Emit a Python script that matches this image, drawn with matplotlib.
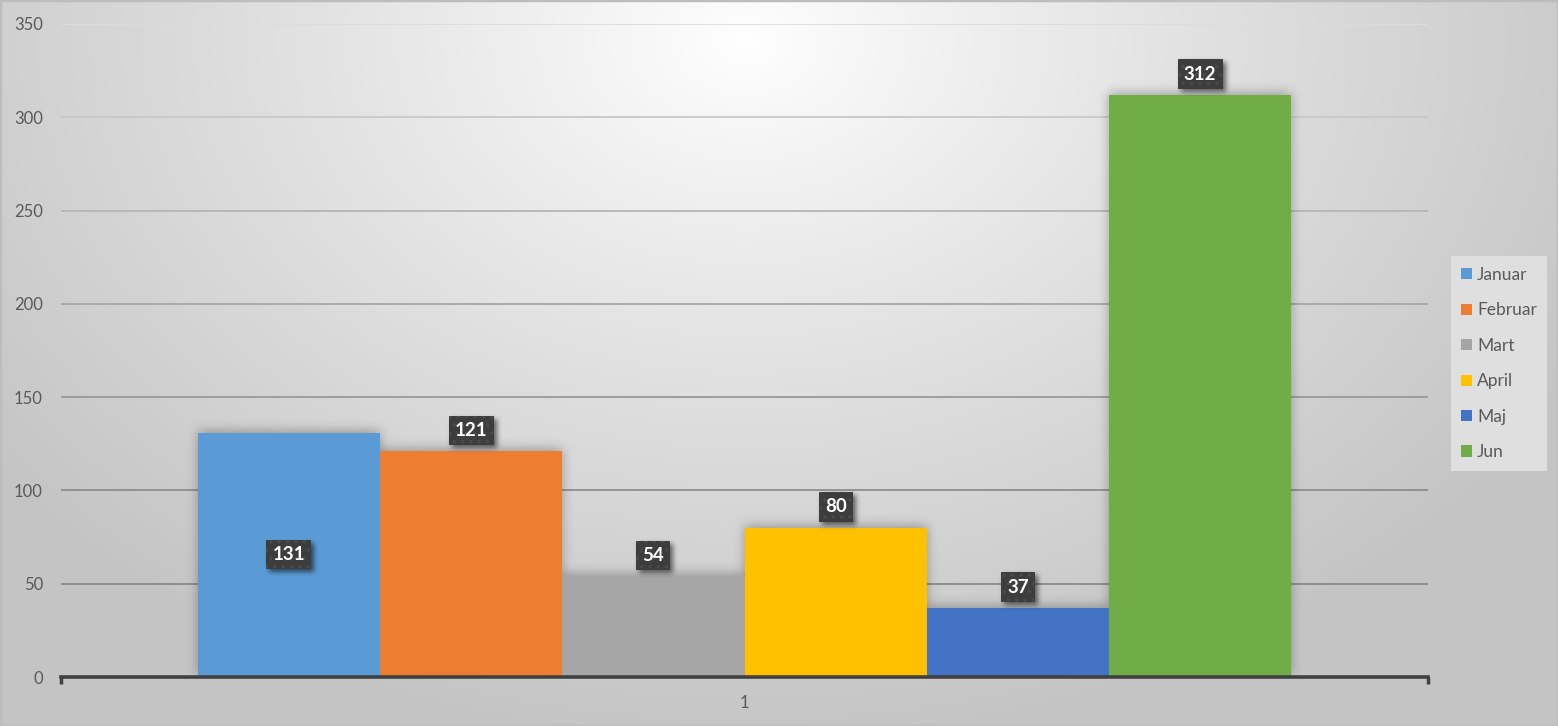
import numpy as np
import matplotlib
matplotlib.use("Agg")
import matplotlib.pyplot as plt
from matplotlib.patches import Rectangle

months = ["Januar", "Februar", "Mart", "April", "Maj", "Jun"]
values = [131, 121, 54, 80, 37, 312]
colors = ["#5b9bd5", "#ed7d31", "#a5a5a5", "#ffc000", "#4472c4", "#70ad47"]
category = ["1"]
y_ticks = [0, 50, 100, 150, 200, 250, 300, 350]

W, H = 1558, 726
plt.rcParams["font.family"] = ["Lato", "DejaVu Sans"]
plt.rcParams["hatch.linewidth"] = 1.2


def blur(a, r, n=3):
    k = np.ones(2 * r + 1) / (2 * r + 1)
    for _ in range(n):
        for axis in (0, 1):
            a = np.apply_along_axis(lambda v: np.convolve(v, k, mode="same"), axis, a)
    return a


fig = plt.figure(figsize=(W / 100, H / 100), dpi=100)

# radial background, white near top centre
bg = fig.add_axes([0, 0, 1, 1], zorder=-5)
yy, xx = np.mgrid[0:H, 0:W]
d = np.sqrt((xx - 745.0) ** 2 + ((yy - 40.0) * 1.35) ** 2) / 950.0
shade = 1.0 - 0.23 * np.clip(d, 0, 1) ** 0.9
bg.imshow(np.dstack([shade] * 3), extent=[0, 1, 0, 1], aspect="auto", origin="upper")
bg.add_patch(Rectangle((0, 0), 1, 1, transform=bg.transAxes, facecolor="none",
                       edgecolor="#bdbdbd", linewidth=2.5))
bg.set_xlim(0, 1)
bg.set_ylim(0, 1)
bg.axis("off")

ax = fig.add_axes([61 / W, 1 - 677 / H, (1428 - 61) / W, (677 - 24) / H])
ax.set_facecolor("none")
ax.set_xlim(-0.5, 0.5)
ax.set_ylim(0, 350)

n = len(values)
width = 0.8 / n
xs = -0.4 + width * (np.arange(n) + 0.5)

bars = ax.bar(xs, values, width=width, color=colors, zorder=2)

labels = []
for i, (x, v) in enumerate(zip(xs, values)):
    if i == 0:
        y, off = v / 2, 0
    else:
        y, off = v, 15
    box = dict(boxstyle="square,pad=0.33", facecolor="#3d3d3d", edgecolor="#4a4a4a",
               linewidth=0, hatch="..")
    t = ax.annotate(str(v), (x, y), xytext=(0, off), textcoords="offset points",
                    ha="center", va="center", fontsize=13.5, fontweight="bold",
                    color="white", bbox=box, zorder=5)
    labels.append(t)

# gridlines fade from light at the top to darker at the bottom
grid_cols = {50: "#8a8a8a", 100: "#8e8e8e", 150: "#999999", 200: "#a6a6a6",
             250: "#b5b5b5", 300: "#c8c8c8", 350: "#dcdcdc"}
for t in y_ticks[1:]:
    ax.axhline(t, color=grid_cols[t], linewidth=1.3, zorder=0.5)

ax.set_yticks(y_ticks)
ax.set_yticklabels([str(t) for t in y_ticks])
ax.tick_params(axis="y", length=0, pad=13, labelsize=12, labelcolor="#595959")

ax.set_xticks([-0.5, 0.5])
ax.set_xticklabels(["", ""])
ax.tick_params(axis="x", which="major", length=5, width=2.5, color="#404040", direction="out")
ax.set_xticks([0], minor=True)
ax.set_xticklabels(category, minor=True)
ax.tick_params(axis="x", which="minor", length=0, pad=13, labelsize=12, labelcolor="#595959")

for s in ["top", "right", "left"]:
    ax.spines[s].set_visible(False)
ax.spines["bottom"].set_color("#404040")
ax.spines["bottom"].set_linewidth(2.6)
ax.spines["bottom"].set_zorder(3)

leg = fig.legend(handles=list(bars), labels=months, loc="center left",
                 bbox_to_anchor=(1451 / W, 1 - 363.5 / H), frameon=True,
                 fontsize=12.5, labelcolor="#595959", handlelength=0.6, handleheight=0.6,
                 handletextpad=0.3, labelspacing=1.12, borderpad=0.6, borderaxespad=0,
                 fancybox=False)
leg.get_frame().set_facecolor("#dfdfdf")
leg.get_frame().set_edgecolor("none")
leg.get_frame().set_alpha(1)

# soft shadows for bars and label boxes, built in axes pixel space
fig.canvas.draw()
rend = fig.canvas.get_renderer()
abb = ax.get_window_extent(rend)
aw, ah = int(round(abb.width)), int(round(abb.height))


def rect_mask(bb, dx=0, dy=0):
    m = np.zeros((ah, aw))
    x0 = int(round(bb.x0 - abb.x0 + dx))
    x1 = int(round(bb.x1 - abb.x0 + dx))
    r0 = int(round(abb.y1 - bb.y1 - dy))
    r1 = int(round(abb.y1 - bb.y0 - dy))
    m[max(r0, 0):max(r1, 0), max(x0, 0):max(x1, 0)] = 1.0
    return m


bar_mask = np.zeros((ah, aw))
for b in bars:
    bar_mask = np.maximum(bar_mask, rect_mask(b.get_window_extent(rend), 0, 2))
bar_sh = blur(bar_mask, 5) * 0.3

lab_mask = np.zeros((ah, aw))
for t in labels:
    lab_mask = np.maximum(lab_mask, rect_mask(t.get_bbox_patch().get_window_extent(rend), 3, -3))
lab_sh = blur(lab_mask, 2) * 0.55

ext = [-0.5, 0.5, 0, 350]
for sh, z in [(bar_sh, 1.5), (lab_sh, 4)]:
    rgba = np.zeros((ah, aw, 4))
    rgba[..., 3] = np.clip(sh, 0, 1)
    ax.imshow(rgba, extent=ext, aspect="auto", origin="upper", zorder=z,
              interpolation="nearest")
ax.set_xlim(-0.5, 0.5)
ax.set_ylim(0, 350)

fig.savefig("out.png", dpi=100)
